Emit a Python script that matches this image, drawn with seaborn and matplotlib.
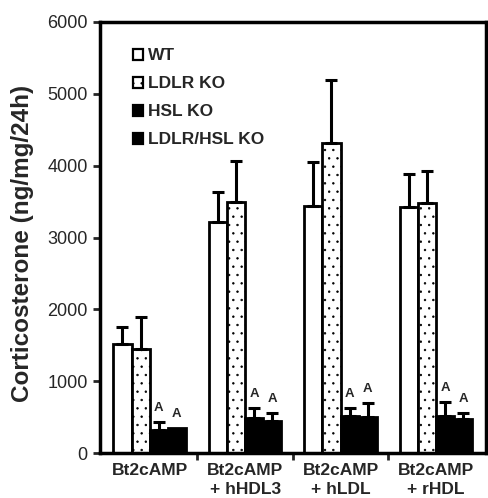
import numpy as np
import pandas as pd
import matplotlib.pyplot as plt
import seaborn as sns
from matplotlib.patches import Patch

# values (ng/mg/24h)
treatments = ['Bt2cAMP', 'Bt2cAMP\n+ hHDL3', 'Bt2cAMP\n+ hLDL', 'Bt2cAMP\n+ rHDL']
genotypes = ['WT', 'LDLR KO', 'HSL KO', 'LDLR/HSL KO']
wt = [1520, 3210, 3445, 3430]
ldlr = [1450, 3500, 4310, 3475]
hsl = [320, 490, 515, 515]
ldlr_hsl = [350, 445, 510, 475]
wt_err = [240, 430, 610, 450]
ldlr_err = [450, 560, 880, 450]
hsl_err = [110, 135, 110, 195]
ldlr_hsl_err = [0, 110, 185, 85]

means = [wt, ldlr, hsl, ldlr_hsl]
errs = [wt_err, ldlr_err, hsl_err, ldlr_hsl_err]
df = pd.DataFrame({
    'treatment': np.tile(treatments, 4),
    'genotype': np.repeat(genotypes, 4),
    'value': np.concatenate(means),
})

sns.set_theme(style='ticks')
plt.rcParams['font.family'] = ['Liberation Sans', 'DejaVu Sans']
plt.rcParams['hatch.color'] = '#555555'
plt.rcParams['hatch.linewidth'] = 0.5

fig = plt.figure(figsize=(4.88, 4.98), dpi=100)
ax = fig.add_axes([0.205, 0.09, 0.79, 0.866])

palette = {'WT': 'white', 'LDLR KO': 'white', 'HSL KO': 'black', 'LDLR/HSL KO': 'black'}
sns.barplot(data=df, x='treatment', y='value', hue='genotype', order=treatments,
            hue_order=genotypes, palette=palette, width=0.76, errorbar=None,
            edgecolor='black', linewidth=2, saturation=1, ax=ax, legend=False)

bars = list(ax.patches)
for k, g in enumerate(genotypes):
    for i in range(len(treatments)):
        p = bars[k * len(treatments) + i]
        if g == 'LDLR KO':
            p.set_hatch('..')
        xc = p.get_x() + p.get_width() / 2
        top = p.get_height()
        e = errs[k][i]
        if e > 0:
            ax.errorbar(xc, top, yerr=[[0], [e]], fmt='none', ecolor='black',
                        elinewidth=2.2, capsize=4.5, capthick=2.2, zorder=3)
        if g in ('HSL KO', 'LDLR/HSL KO'):
            ax.text(xc, top + e + 110, 'A', ha='center', va='bottom',
                    fontsize=9.5, fontweight='bold')

# legend
handles = [Patch(facecolor=palette[g], edgecolor='black', linewidth=1.6,
                 hatch='..' if g == 'LDLR KO' else None) for g in genotypes]
ax.legend(handles, genotypes, loc='upper left', bbox_to_anchor=(0.045, 0.975),
          frameon=False, handlelength=0.6, handleheight=0.6, handletextpad=0.25,
          labelspacing=0.75, prop={'weight': 'bold', 'size': 12.5})

ax.set_ylim(0, 6000)
ax.set_xlim(-0.52, 3.52)
ax.set_yticks(range(0, 6001, 1000))
ax.tick_params(axis='y', labelsize=13, width=2, length=5, pad=4)
ax.tick_params(axis='x', which='major', length=0, labelsize=12.5, pad=7)
ax.set_xticks([0.5, 1.5, 2.5], minor=True)
ax.tick_params(axis='x', which='minor', length=5, width=2)
for lab in ax.get_xticklabels():
    lab.set_fontweight('bold')
    lab.set_linespacing(1.3)
ax.set_xlabel('')
ax.set_ylabel('Corticosterone (ng/mg/24h)', fontsize=17.5, fontweight='bold')
ax.yaxis.set_label_coords(-0.172, 0.487)
for s in ax.spines.values():
    s.set_linewidth(2.5)
    s.set_color('black')

fig.savefig('out.png', dpi=100)
